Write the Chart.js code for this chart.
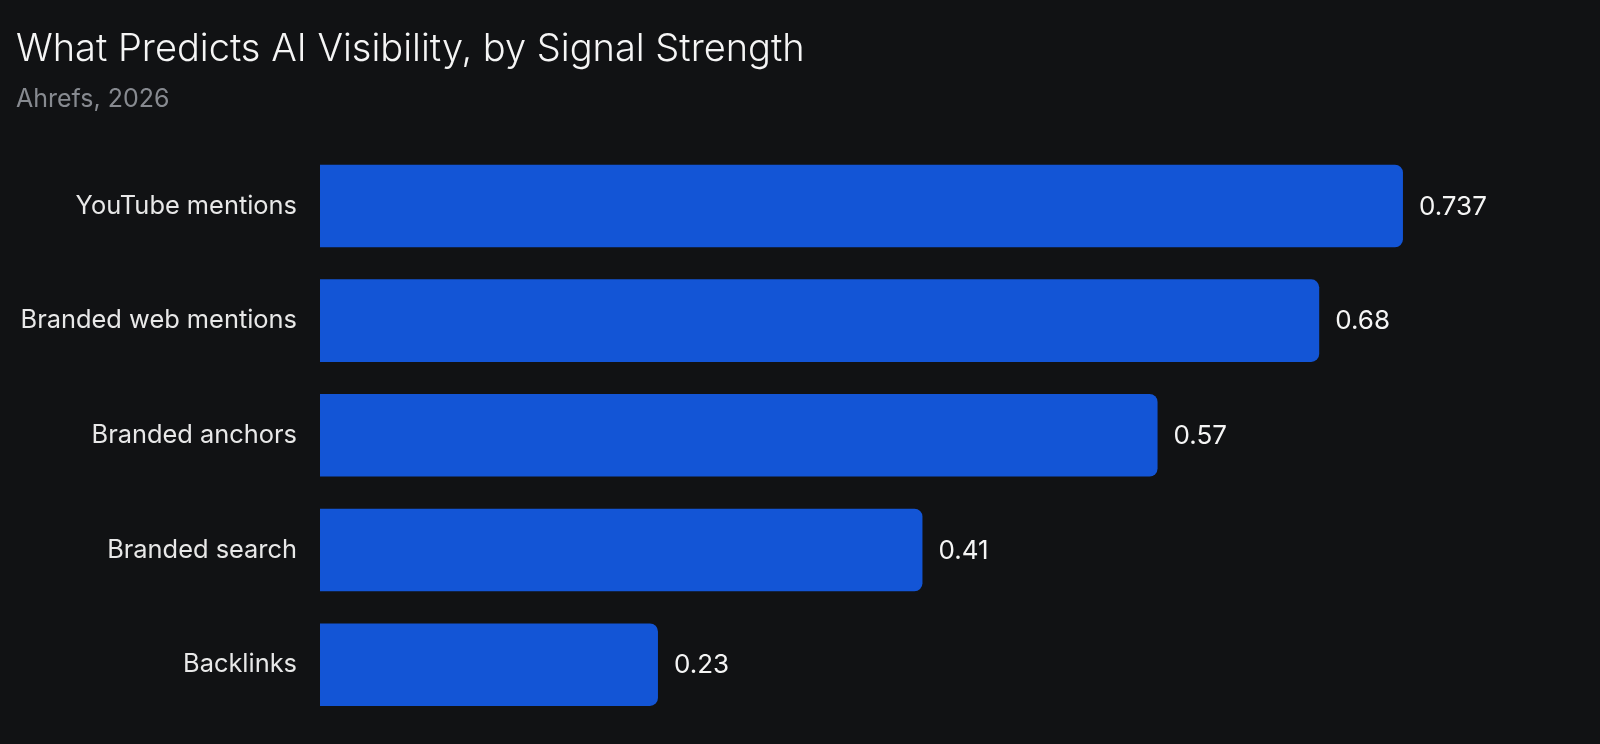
<!DOCTYPE html>
<html>
<head>
<meta charset="utf-8">
<title>What Predicts AI Visibility, by Signal Strength</title>
<script src="https://cdn.jsdelivr.net/npm/chart.js@4.4.1/dist/chart.umd.min.js"></script>
<style>
    html, body { margin: 0; padding: 0; background: #111214; overflow: hidden; }
    .c-chart { position: relative; width: 1600px; height: 744px; }
</style>
</head>
<body>
<div class="c-chart">
    <canvas id="signalChart"></canvas>
</div>
<script>
// Chart data
const categories = ['YouTube mentions', 'Branded web mentions', 'Branded anchors', 'Branded search', 'Backlinks'];
const signalValues = [0.737, 0.68, 0.57, 0.41, 0.23];
const xRange = [0, 0.85];

const COLORS = {
    background: '#111214',
    bar: '#1355d6',
    title: '#f5f5f5',
    subtitle: '#878a90',
    label: '#e8e8e8',
    value: '#f5f5f5'
};

const FONT_FAMILY = "Inter, 'Noto Sans', sans-serif";

// Draws the value text just past the end of each bar
const valueLabels = {
    id: 'valueLabels',
    afterDatasetsDraw(chart) {
        const { ctx } = chart;
        const meta = chart.getDatasetMeta(0);
        ctx.save();
        ctx.font = `400 26px ${FONT_FAMILY}`;
        ctx.fillStyle = COLORS.value;
        ctx.textAlign = 'left';
        ctx.textBaseline = 'middle';
        meta.data.forEach((bar, i) => {
            ctx.fillText(String(signalValues[i]), bar.x + 16, bar.y + 1);
        });
        ctx.restore();
    }
};

function drawSignalChart() {
    const ctx = document.getElementById('signalChart')?.getContext('2d');
    if (!ctx) return;

    new Chart(ctx, {
        type: 'bar',
        data: {
            labels: categories,
            datasets: [{
                data: signalValues,
                backgroundColor: COLORS.bar,
                borderRadius: 8,
                borderSkipped: 'start',
                categoryPercentage: 1,
                barPercentage: 0.72
            }]
        },
        options: {
            indexAxis: 'y',
            responsive: true,
            maintainAspectRatio: false,
            animation: false,
            layout: {
                padding: { left: 16, right: 31, top: 0, bottom: 22 }
            },
            plugins: {
                legend: { display: false },
                tooltip: { enabled: false },
                title: {
                    display: true,
                    text: 'What Predicts AI Visibility, by Signal Strength',
                    align: 'start',
                    color: COLORS.title,
                    font: { family: FONT_FAMILY, size: 38, weight: '300', lineHeight: 1.2 },
                    padding: { top: 27, bottom: 0 }
                },
                subtitle: {
                    display: true,
                    text: 'Ahrefs, 2026',
                    align: 'start',
                    color: COLORS.subtitle,
                    font: { family: FONT_FAMILY, size: 25, weight: '400', lineHeight: 1.2 },
                    padding: { top: 12, bottom: 34 }
                }
            },
            scales: {
                x: {
                    display: false,
                    min: xRange[0],
                    max: xRange[1]
                },
                y: {
                    grid: { display: false },
                    border: { display: false },
                    ticks: {
                        color: COLORS.label,
                        padding: 15,
                        font: { family: FONT_FAMILY, size: 25.4, weight: '400' }
                    },
                    afterFit(scale) {
                        // fixed label column; labels must not push the plot edges
                        scale.width = 304;
                        scale.paddingTop = 0;
                        scale.paddingBottom = 0;
                    }
                }
            }
        },
        plugins: [valueLabels]
    });
}

document.addEventListener('DOMContentLoaded', drawSignalChart);
</script>
</body>
</html>
